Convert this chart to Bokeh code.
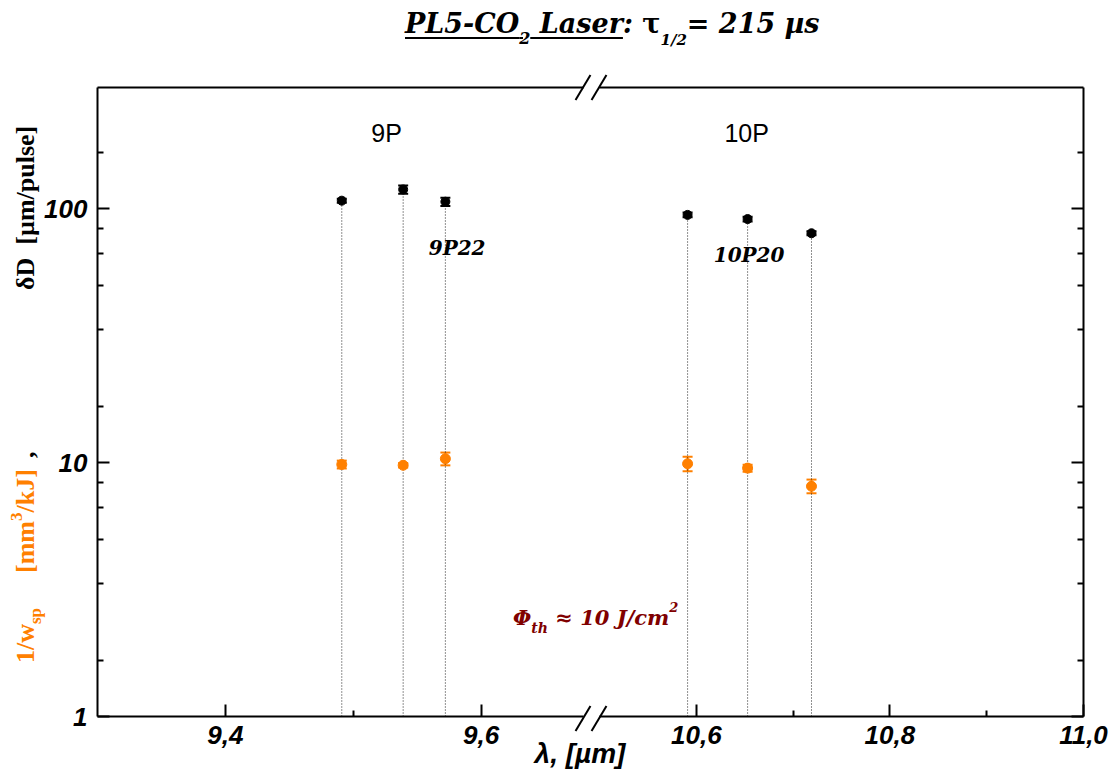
from bokeh.plotting import figure
from bokeh.layouts import row
from bokeh.models import (Range1d, FixedTicker, LinearAxis, CustomJSTickFormatter,
                          Label, Whisker, TeeHead, ColumnDataSource, Div)
from bokeh.embed import file_html
from bokeh.resources import INLINE

# CO2 laser emission lines used (wavelength, µm)
lam_9p = [9.491, 9.539, 9.572]
lam_10p = [10.591, 10.653, 10.719]

# ablation depth per pulse, µm/pulse
dD_9p = [107.5, 119.0, 106.5]
dD_9p_err = [2.0, 4.5, 4.0]
dD_10p = [94.5, 91.0, 80.0]
dD_10p_err = [2.0, 2.0, 1.5]

# inverse specific ablation energy, mm^3/kJ
inv_w_9p = [9.83, 9.76, 10.35]
inv_w_9p_err = [0.35, 0.2, 0.6]
inv_w_10p = [9.89, 9.51, 8.07]
inv_w_10p_err = [0.65, 0.3, 0.5]

# axis segments (broken wavelength axis) and ticks
x_left = (9.3, 9.68)
x_right = (10.5, 11.0)
y_span = (1, 300)
y_major = [1, 10, 100]
y_minor = [d * k / 6 for d in (10, 100, 1000) for k in range(1, 6)]
x_left_major, x_left_minor = [9.4, 9.6], [9.5]
x_right_major, x_right_minor = [10.6, 10.8, 11.0], [10.7, 10.9]

ORANGE = "#FF8000"
DARKRED = "#800000"

W, H = 1114, 771
TOP, BOTTOM = 87, 55
LEFT_X0, LEFT_X1 = 97, 583
RIGHT_X0, RIGHT_X1 = 599, 1083
FRAME_BOTTOM = H - BOTTOM

comma_fmt = CustomJSTickFormatter(code="return tick.toFixed(1).replace('.', ',');")


def style_axis(ax):
    ax.axis_line_width = 2
    ax.axis_line_color = "black"
    ax.major_tick_line_width = 2
    ax.minor_tick_line_width = 2
    ax.major_tick_line_color = "black"
    ax.minor_tick_line_color = "black"
    ax.major_tick_in, ax.major_tick_out = 12, 0
    ax.minor_tick_in, ax.minor_tick_out = 6, 0
    ax.major_label_text_font = "Liberation Sans"
    ax.major_label_text_font_style = "bold italic"
    ax.major_label_text_font_size = "26px"
    ax.major_label_text_color = "black"


def top_rule(bounds):
    ax = LinearAxis(ticker=FixedTicker(ticks=[]), bounds=bounds)
    ax.axis_line_width = 2
    ax.major_tick_in = ax.major_tick_out = 0
    ax.minor_tick_in = ax.minor_tick_out = 0
    ax.major_label_text_font_size = "1px"
    return ax


def add_series(p, lam, dD, dD_err, inv_w, inv_w_err):
    src = ColumnDataSource(dict(
        x=lam, d=dD,
        d_lo=[v - e for v, e in zip(dD, dD_err)], d_hi=[v + e for v, e in zip(dD, dD_err)],
        w=inv_w,
        w_lo=[v - e for v, e in zip(inv_w, inv_w_err)], w_hi=[v + e for v, e in zip(inv_w, inv_w_err)],
        base=[y_span[0]] * len(lam),
    ))
    p.segment(x0="x", y0="base", x1="x", y1="d", source=src,
              line_color="#222222", line_width=1, line_dash="1 2")
    for lo, hi, col in (("d_lo", "d_hi", "black"), ("w_lo", "w_hi", ORANGE)):
        p.add_layout(Whisker(source=src, base="x", lower=lo, upper=hi, dimension="height",
                             line_color=col, line_width=2,
                             upper_head=TeeHead(size=10, line_color=col, line_width=2),
                             lower_head=TeeHead(size=10, line_color=col, line_width=2)))
    p.scatter("x", "d", source=src, size=9, color="black")
    p.scatter("x", "w", source=src, size=10, color=ORANGE)


# ---- left segment (9P band) ----
left = figure(width=W, height=H,
              min_border_left=LEFT_X0, min_border_right=W - LEFT_X1,
              min_border_top=TOP, min_border_bottom=BOTTOM,
              x_range=Range1d(*x_left), y_range=Range1d(*y_span), y_axis_type="log",
              output_backend="svg", toolbar_location=None,
              background_fill_color="white", border_fill_color="white",
              outline_line_color=None)
left.grid.visible = False
ya = left.yaxis[0]
style_axis(ya)
ya.ticker = FixedTicker(ticks=y_major, minor_ticks=y_minor)
ya.formatter = CustomJSTickFormatter(code="return tick.toFixed(0);")
ya.major_label_standoff = 10
xa = left.xaxis[0]
style_axis(xa)
xa.ticker = FixedTicker(ticks=x_left_major, minor_ticks=x_left_minor)
xa.formatter = comma_fmt
xa.bounds = x_left
xa.major_label_standoff = 9
left.add_layout(top_rule(x_left), "above")
add_series(left, lam_9p, dD_9p, dD_9p_err, inv_w_9p, inv_w_9p_err)

left.add_layout(Label(x=9.526, y=198, text="9P", text_align="center", text_baseline="middle",
                      text_font="Liberation Sans", text_font_size="25px", text_color="black"))
left.add_layout(Label(x=9.559, y=69.7, text="9P22", text_align="left", text_baseline="middle",
                      text_font="DejaVu Serif", text_font_style="bold italic",
                      text_font_size="20px", text_color="black"))

# ---- right segment (10P band), laid over the left one ----
right = figure(width=W, height=H,
               min_border_left=RIGHT_X0, min_border_right=W - RIGHT_X1,
               min_border_top=TOP, min_border_bottom=BOTTOM,
               x_range=Range1d(*x_right), y_range=Range1d(*y_span), y_axis_type="log",
               y_axis_location="right",
               output_backend="svg", toolbar_location=None,
               background_fill_color=None, border_fill_color=None,
               outline_line_color=None, margin=(0, 0, 0, -W))
right.grid.visible = False
yr = right.yaxis[0]
style_axis(yr)
yr.ticker = FixedTicker(ticks=y_major, minor_ticks=y_minor)
yr.formatter = CustomJSTickFormatter(code="return '';")
yr.major_label_text_font_size = "1px"
yr.major_label_standoff = 0
xr = right.xaxis[0]
style_axis(xr)
xr.ticker = FixedTicker(ticks=x_right_major, minor_ticks=x_right_minor)
xr.formatter = comma_fmt
xr.bounds = x_right
xr.major_label_standoff = 9
right.add_layout(top_rule(x_right), "above")
add_series(right, lam_10p, dD_10p, dD_10p_err, inv_w_10p, inv_w_10p_err)

right.add_layout(Label(x=10.652, y=198, text="10P", text_align="center", text_baseline="middle",
                       text_font="Liberation Sans", text_font_size="25px", text_color="black"))
right.add_layout(Label(x=10.618, y=65.4, text="10P20", text_align="left", text_baseline="middle",
                       text_font="DejaVu Serif", text_font_style="bold italic",
                       text_font_size="20px", text_color="black"))

# ---- titles, notes and axis-break marks on an HTML layer above both segments ----
# baseline position (fraction of font size) for line-height: 1
ASC = {"DejaVu Serif": 0.846, "Liberation Serif": 0.8375, "Liberation Sans": 0.8465}


def script(text, size, shift):
    return (f'<span style="font-size:{size}px;vertical-align:{shift}px;'
            f'line-height:0">{text}</span>')


def block(x, y, html, size, font, color="black", style="italic", weight="bold",
          rotate=False, center=False):
    k = ASC[font] * size
    if rotate:      # text reads upward from (x_start, y), baseline at x
        pos = f"left:{x - k:.1f}px;top:{y}px;transform:rotate(-90deg);transform-origin:0 0;"
    elif center:
        pos = f"left:{x}px;top:{y - k:.1f}px;transform:translateX(-50%);"
    else:
        pos = f"left:{x}px;top:{y - k:.1f}px;"
    return (f'<div style="position:absolute;{pos}white-space:nowrap;line-height:1;'
            f"font-family:'{font}';font-size:{size}px;font-style:{style};"
            f'font-weight:{weight};color:{color}">{html}</div>')


def slash(xc, yc):
    return (f'<div style="position:absolute;left:{xc - 1}px;top:{yc - 14.5}px;width:2px;'
            f'height:29px;background:black;transform:rotate(31deg)"></div>')


title_html = (
    '<span style="text-decoration:underline;text-decoration-thickness:2px;'
    'text-underline-offset:4px">PL5-CO' + script("2", 16, -11) + ' Laser</span>:'
    '<span style="font-style:normal"> τ</span>' + script("1/2", 15, -12) + '= 215 µs'
)
ylab_orange_1 = "1/w" + script("sp", 17, -7)
ylab_orange_2 = "[mm" + script("3", 17, 12) + "/kJ]"
ylab_black = "δD&nbsp;&nbsp;[µm/pulse]"
phi_html = "Φ" + script("th", 14, -8) + "&nbsp;≈ 10 J/cm" + script("2", 13, 13)
xlab_html = "λ, [µm]"

parts = [
    block(405, 33, title_html, 27, "DejaVu Serif"),
    block(35, 663, ylab_orange_1, 26, "Liberation Serif", ORANGE, "normal", rotate=True),
    block(35, 573, ylab_orange_2, 26, "Liberation Serif", ORANGE, "normal", rotate=True),
    block(35, 458, ",", 26, "Liberation Serif", "black", "normal", rotate=True),
    block(35, 290, ylab_black, 26, "Liberation Serif", "black", "normal", rotate=True),
    block(513, 625, phi_html, 21, "DejaVu Serif", DARKRED),
    block(580, 764, xlab_html, 28, "Liberation Sans", center=True),
]
for yc in (TOP, FRAME_BOTTOM + 2):
    for xc in (LEFT_X1 - 0.5, RIGHT_X0 - 0.5):
        parts.append(slash(xc, yc))

overlay = Div(text=f'<div style="position:relative;width:{W}px;height:{H}px">'
                   + "".join(parts) + "</div>",
              width=W, height=H, margin=(0, 0, 0, -W))

layout = row(left, right, overlay)
open("out.html", "w").write(file_html(layout, INLINE))
